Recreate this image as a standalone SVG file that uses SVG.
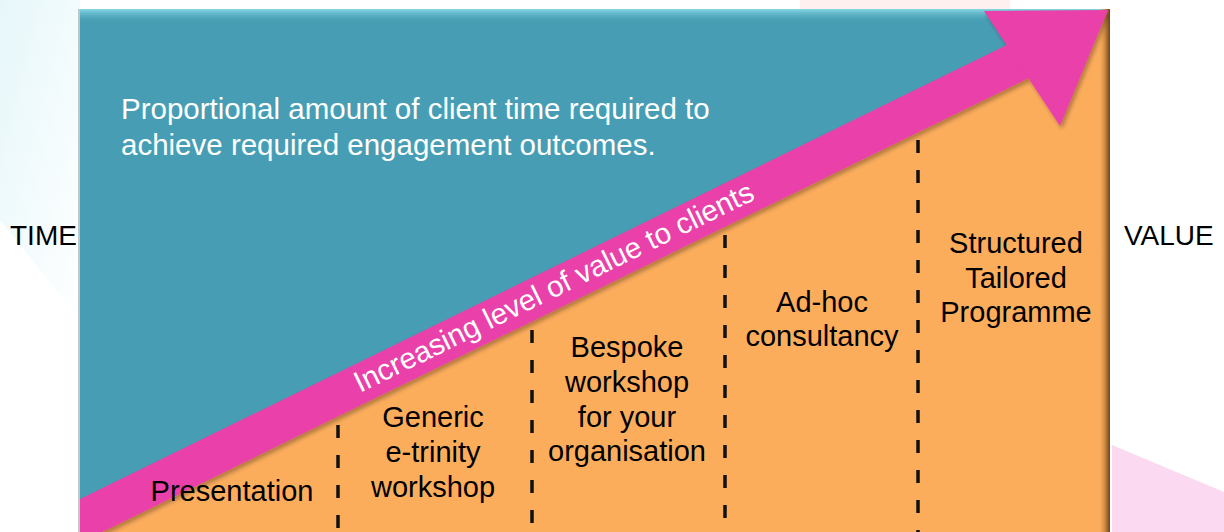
<svg xmlns="http://www.w3.org/2000/svg" width="1224" height="532" viewBox="0 0 1224 532">
  <defs>
    <style>
      .t{font-family:"Liberation Sans",Arial,Helvetica,sans-serif}
      .lbl{font-size:29px;fill:#000;text-anchor:middle}
      .side{font-size:28px;fill:#000}
      .wh{font-size:29.5px;fill:#fff}
      .dash{stroke:#111;stroke-width:3.5;stroke-dasharray:13 17;fill:none}
    </style>
    <clipPath id="boxClip"><rect x="80" y="9" width="1030" height="523"/></clipPath>
    <linearGradient id="topBevel" x1="0" y1="0" x2="0" y2="1">
      <stop offset="0" stop-color="#86d8e4"/>
      <stop offset="1" stop-color="#479eb4" stop-opacity="0"/>
    </linearGradient>
    <linearGradient id="rightEdge" x1="0" y1="0" x2="1" y2="0">
      <stop offset="0" stop-color="#fcad5c" stop-opacity="0"/>
      <stop offset="0.6" stop-color="#c7843f"/>
      <stop offset="1" stop-color="#6e4418"/>
    </linearGradient>
    <linearGradient id="leftHaze" x1="0" y1="0" x2="1" y2="1">
      <stop offset="0" stop-color="#e6f7fa"/>
      <stop offset="1" stop-color="#ffffff"/>
    </linearGradient>
    <filter id="shadow" x="-10%" y="-10%" width="120%" height="120%">
      <feDropShadow dx="2" dy="3" stdDeviation="2" flood-color="#000" flood-opacity="0.3"/>
    </filter>
  </defs>

  <!-- faint backdrop shapes -->
  <rect width="1224" height="532" fill="#fff"/>
  <polygon points="0,0 80,0 80,320 0,220" fill="url(#leftHaze)"/>
  <polygon points="800,0 1010,0 1010,9 800,9" fill="#fdf0ee"/>
  <polygon points="1112,445 1224,492 1224,532 1112,532" fill="#fbd9f0"/>

  <!-- time / value panel -->
  <g id="panel">
    <line x1="79" y1="9" x2="79" y2="532" stroke="#9aa4a8" stroke-width="2" opacity="0.6"/>
    <rect x="80" y="9" width="1030" height="523" fill="#479eb4"/>
    <rect x="80" y="9" width="1030" height="14" fill="url(#topBevel)"/>
    <polygon points="80,532 80,515 1110,9 1110,532" fill="#fcad5c"/>
    <rect x="1098" y="9" width="12" height="523" fill="url(#rightEdge)"/>
  </g>

  <!-- stage dividers -->
  <g id="connectors">
    <line class="dash" x1="338" y1="395" x2="338" y2="532"/>
    <line class="dash" x1="532" y1="300" x2="532" y2="532"/>
    <line class="dash" x1="725" y1="205" x2="725" y2="532"/>
    <line class="dash" x1="918" y1="110" x2="918" y2="532"/>
  </g>

  <!-- rising value arrow -->
  <g id="value-arrow" clip-path="url(#boxClip)">
    <g filter="url(#shadow)" fill="#e93fa9">
      <polygon points="40,518.6 1015,41 1031,77 40,562.5"/>
      <polygon points="984,11 1108,10 1060,126"/>
    </g>
    <text class="t wh" transform="translate(360,393) rotate(-26.1)">Increasing level of value to clients</text>
  </g>

  <g id="time-note">
    <text class="t wh" x="121" y="119">Proportional amount of client time required to</text>
    <text class="t wh" x="121" y="155">achieve required engagement outcomes.</text>
  </g>

  <g id="axis-time"><text class="t side" x="10" y="245">TIME</text></g>
  <g id="axis-value"><text class="t side" x="1124" y="245">VALUE</text></g>

  <g id="stage-presentation">
    <text class="t lbl" x="232" y="501">Presentation</text>
  </g>
  <g id="stage-generic">
    <text class="t lbl" x="433" y="427">Generic</text>
    <text class="t lbl" x="433" y="462">e-trinity</text>
    <text class="t lbl" x="433" y="497">workshop</text>
  </g>
  <g id="stage-bespoke">
    <text class="t lbl" x="627" y="357">Bespoke</text>
    <text class="t lbl" x="627" y="392">workshop</text>
    <text class="t lbl" x="627" y="427">for your</text>
    <text class="t lbl" x="627" y="461">organisation</text>
  </g>
  <g id="stage-adhoc">
    <text class="t lbl" x="822" y="312">Ad-hoc</text>
    <text class="t lbl" x="822" y="346">consultancy</text>
  </g>
  <g id="stage-structured">
    <text class="t lbl" x="1016" y="253">Structured</text>
    <text class="t lbl" x="1016" y="288">Tailored</text>
    <text class="t lbl" x="1016" y="322">Programme</text>
  </g>
</svg>
